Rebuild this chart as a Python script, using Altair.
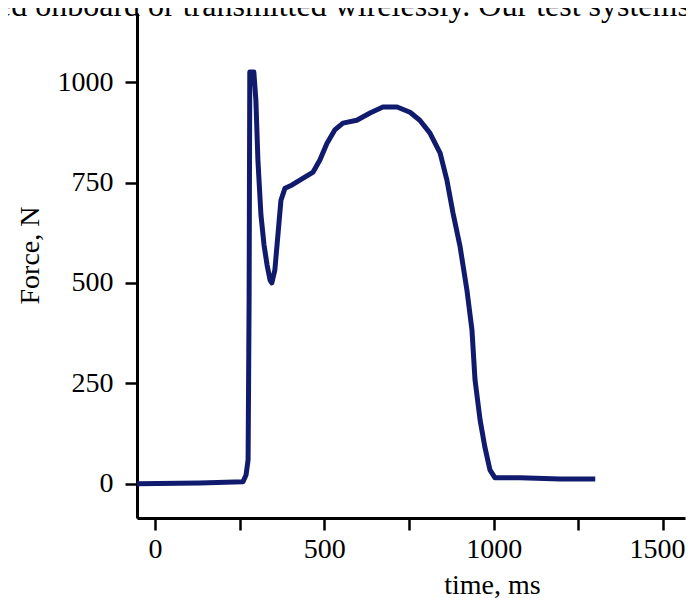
import altair as alt
import pandas as pd

time_ms = [-53, 133, 260, 269, 275, 278, 280, 292, 298, 304, 313, 322, 331, 340, 345,
           354, 363, 372, 384, 405, 428, 467, 487, 508, 531, 555, 596, 635, 673, 715,
           753, 782, 812, 842, 862, 880, 901, 921, 936, 945, 960, 974, 989, 1004, 1078,
           1196, 1300]
force_n = [0, 2, 5, 22, 60, 458, 1025, 1025, 955, 806, 669, 595, 545, 507, 500,
           532, 619, 706, 736, 744, 756, 776, 806, 848, 881, 898, 905, 923, 938, 938,
           925, 905, 873, 823, 756, 674, 590, 483, 383, 259, 159, 92, 35, 15, 15,
           12, 12]

x_ticks = [0, 250, 500, 750, 1000, 1250, 1500]
y_ticks = [0, 250, 500, 750, 1000]
top_text = ["ed onboard or transmitted wirelessly. Our test systems"]

df = pd.DataFrame({"t": time_ms, "f": force_n, "order": list(range(len(time_ms)))})

FONT = "Liberation Serif"

line = alt.Chart(df).mark_line(color="#111b6e", strokeWidth=5, strokeJoin="round", clip=True).encode(
    x=alt.X("t:Q", scale=alt.Scale(domain=[-53, 1565], nice=False, zero=False),
            axis=alt.Axis(values=x_ticks, format="d",
                          labelExpr="datum.value % 500 == 0 ? datum.label : ''",
                          labelOffset={"condition": {"test": "datum.value == 1500", "value": -6}, "value": 0},
                          labelPadding=5, title="time, ms", titleBaseline="alphabetic",
                          titleAlign="center", titleX=355, titleY=75)),
    y=alt.Y("f:Q", scale=alt.Scale(domain=[-85, 1172], nice=False, zero=False),
            axis=alt.Axis(values=y_ticks, format="d", labelPadding=12,
                          title="Force, N", titleAngle=-90,
                          titleX=-107, titleY=242, titleAlign="center", titleBaseline="middle")),
    order="order:Q",
)

txt = alt.Chart(pd.DataFrame({"s": top_text})).mark_text(
    align="left", baseline="alphabetic", font=FONT, fontSize=32, color="black"
).encode(x=alt.value(-140), y=alt.value(3), text="s:N")

chart = alt.layer(line, txt).properties(
    width=548, height=505,
    autosize=alt.AutoSizeParams(type="none"),
    padding={"left": 129, "top": 5, "right": 1, "bottom": 80},
).configure_view(stroke=None).configure_axis(
    grid=False,
    domainColor="black", domainWidth=3,
    tickColor="black", tickWidth=2.5, tickSize=12,
    labelFont=FONT, labelFontSize=28, labelColor="black",
    titleFont=FONT, titleFontSize=28, titleColor="black", titleFontWeight="normal",
)

chart.save("out.html", embed_options={"renderer": "svg", "actions": False})
